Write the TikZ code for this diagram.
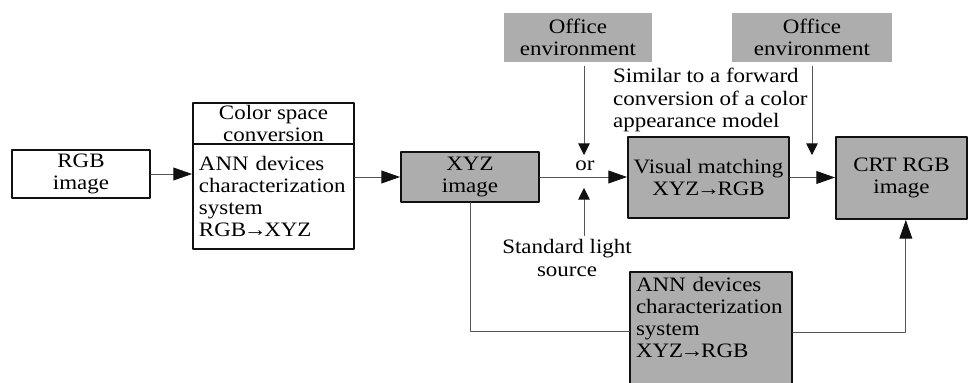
\documentclass[tikz,border=0pt]{standalone}
\usepackage{fontspec}
\setmainfont{Liberation Serif}[FakeStretch=1.12]
\usetikzlibrary{arrows.meta, positioning}
\definecolor{ink}{HTML}{111111}
\definecolor{linkc}{HTML}{555555}
\definecolor{shade}{HTML}{ADADAD}
\tikzset{el/.style={line cap=round, line join=round}}
\newcommand\toarr{\kern-0.12em→\kern-0.12em}

\begin{document}
\begin{tikzpicture}[el, x=0.03cm, y=0.03cm,
     font=\fontsize{17.5}{19}\selectfont,
     box/.style={draw=ink, line width=1.6pt, align=center, inner sep=0pt},
     grey/.style={box, fill=shade},
     env/.style={fill=shade, align=center, inner sep=0pt,
        minimum height=1.47cm},
     ar/.style={-{Triangle[length=16pt, width=11pt, color=ink]}, linkc, line width=0.8pt},
     sar/.style={-{Triangle[length=10pt, width=10pt, color=ink]}, linkc, line width=0.8pt},
     ln/.style={linkc, line width=0.8pt}]
     \useasboundingbox (0,0) rectangle (968,382);
     % main row
     \node[box, minimum width=4.14cm, minimum height=1.44cm] (rgb) at (81,208) {RGB\\image};
     \node[box, minimum width=4.83cm, minimum height=1.23cm] (cshead) at (273.5,258.5) {Color space\\conversion};
     \node[box, minimum width=4.83cm, minimum height=3.15cm, align=left,
        text width=4.47cm, inner xsep=0.18cm] (csbody) at (273.5,185.5)
        {ANN devices\\characterization\\system\\RGB\toarr XYZ};
     \node[grey, minimum width=4.14cm, minimum height=1.5cm] (xyz) at (470,205) {XYZ\\image};
     \node[grey, minimum width=4.83cm, minimum height=2.43cm] (vis) at (708.5,204.5) {Visual matching\\XYZ\toarr RGB};
     \node[grey, minimum width=3.93cm, minimum height=2.46cm] (crt) at (901.5,204) {CRT RGB\\image};
     \node[grey, anchor=north, minimum width=4.86cm, align=left, text width=4.5cm,
        inner xsep=0.18cm, inner ysep=0.15cm] (ann) at (711,111)
        {ANN devices\\characterization\\system\\XYZ\toarr RGB\\\mbox{}};
     % viewing conditions
     \node[env, minimum width=4.44cm] (off1) at (578,344.5) {Office\\environment};
     \node[env, minimum width=4.8cm] (off2) at (812,344.5) {Office\\environment};
     \node (or) at (585,216) {or};
     \node[align=center] (light) at (567,124) {Standard light\\source};
     \node[anchor=west, align=left] (note) at (609,282)
        {Similar to a forward\\conversion of a color\\appearance model};
     \coordinate (ortop) at (584,227);
     \coordinate (orbot) at (584,194);
     \coordinate (crttop) at (812,227);
     % connectors
     \draw[ar] (rgb.east) -- (rgb.east -| csbody.west);
     \draw[ar] (xyz.west -| csbody.east) -- (xyz.west);
     \draw[ar] (xyz.east) -- (xyz.east -| vis.west);
     \draw[ar] (vis.east) -- (vis.east -| crt.west);
     \draw[sar] (off1.south -| ortop) ++(0,-4) -- (ortop);
     \draw[sar] (light.north -| orbot) -- (orbot);
     \draw[sar] (off2.south) ++(0,-4) -- (crttop);
     \draw[ln] (xyz.south) |- ([yshift=-1.8cm]ann.north west);
     \draw[ar] ([yshift=-1.85cm]ann.north east) -| ([xshift=0.13cm]crt.south);
  \end{tikzpicture}
\end{document}
